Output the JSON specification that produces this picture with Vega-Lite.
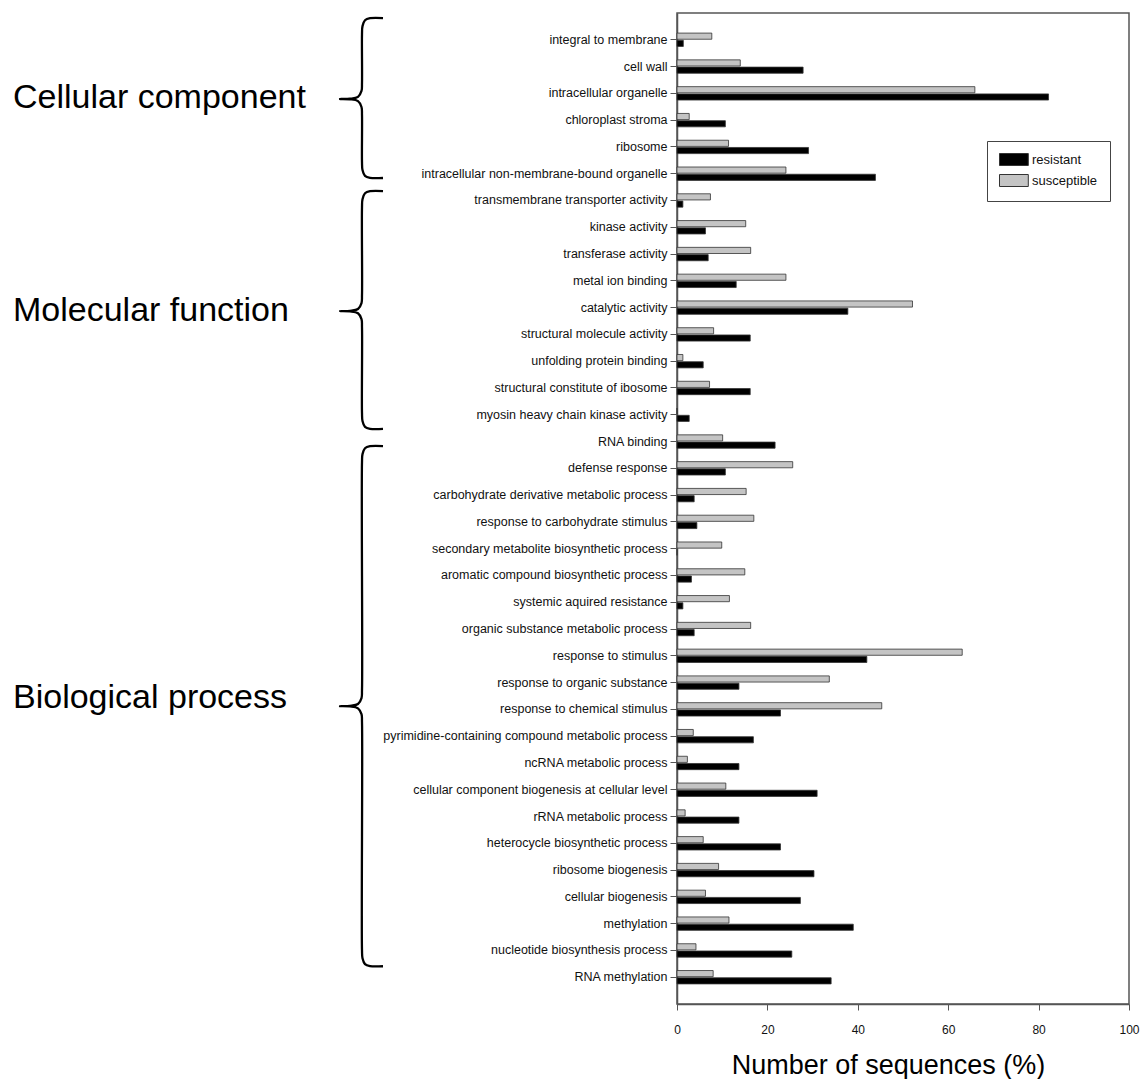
{
  "$schema": "https://vega.github.io/schema/vega-lite/v6.json",
  "padding": {"left": 0, "top": 12, "right": 0, "bottom": 0},
  "background": "white",
  "spacing": 277,
  "bounds": "flush",
  "config": {"font": "Liberation Sans, Arial, sans-serif"},
  "datasets": {
    "bars": [
      {"term": "integral to membrane", "group": "susceptible", "value": 7.7},
      {"term": "integral to membrane", "group": "resistant", "value": 1.4},
      {"term": "cell wall", "group": "susceptible", "value": 14.0},
      {"term": "cell wall", "group": "resistant", "value": 27.9},
      {"term": "intracellular organelle", "group": "susceptible", "value": 65.9},
      {"term": "intracellular organelle", "group": "resistant", "value": 82.2},
      {"term": "chloroplast stroma", "group": "susceptible", "value": 2.7},
      {"term": "chloroplast stroma", "group": "resistant", "value": 10.7},
      {"term": "ribosome", "group": "susceptible", "value": 11.4},
      {"term": "ribosome", "group": "resistant", "value": 29.1},
      {"term": "intracellular non-membrane-bound organelle", "group": "susceptible", "value": 24.1},
      {"term": "intracellular non-membrane-bound organelle", "group": "resistant", "value": 43.9},
      {"term": "transmembrane transporter activity", "group": "susceptible", "value": 7.4},
      {"term": "transmembrane transporter activity", "group": "resistant", "value": 1.3},
      {"term": "kinase activity", "group": "susceptible", "value": 15.2},
      {"term": "kinase activity", "group": "resistant", "value": 6.3},
      {"term": "transferase activity", "group": "susceptible", "value": 16.3},
      {"term": "transferase activity", "group": "resistant", "value": 6.9},
      {"term": "metal ion binding", "group": "susceptible", "value": 24.1},
      {"term": "metal ion binding", "group": "resistant", "value": 13.1},
      {"term": "catalytic activity", "group": "susceptible", "value": 52.1},
      {"term": "catalytic activity", "group": "resistant", "value": 37.8},
      {"term": "structural molecule activity", "group": "susceptible", "value": 8.1},
      {"term": "structural molecule activity", "group": "resistant", "value": 16.2},
      {"term": "unfolding protein binding", "group": "susceptible", "value": 1.3},
      {"term": "unfolding protein binding", "group": "resistant", "value": 5.8},
      {"term": "structural constitute of ibosome", "group": "susceptible", "value": 7.2},
      {"term": "structural constitute of ibosome", "group": "resistant", "value": 16.2},
      {"term": "myosin heavy chain kinase activity", "group": "susceptible", "value": 0},
      {"term": "myosin heavy chain kinase activity", "group": "resistant", "value": 2.7},
      {"term": "RNA binding", "group": "susceptible", "value": 10.1},
      {"term": "RNA binding", "group": "resistant", "value": 21.7},
      {"term": "defense response", "group": "susceptible", "value": 25.6},
      {"term": "defense response", "group": "resistant", "value": 10.7},
      {"term": "carbohydrate derivative metabolic process", "group": "susceptible", "value": 15.3},
      {"term": "carbohydrate derivative metabolic process", "group": "resistant", "value": 3.8},
      {"term": "response to carbohydrate stimulus", "group": "susceptible", "value": 17.0},
      {"term": "response to carbohydrate stimulus", "group": "resistant", "value": 4.4},
      {"term": "secondary metabolite biosynthetic process", "group": "susceptible", "value": 9.9},
      {"term": "secondary metabolite biosynthetic process", "group": "resistant", "value": 0},
      {"term": "aromatic compound biosynthetic process", "group": "susceptible", "value": 15.0},
      {"term": "aromatic compound biosynthetic process", "group": "resistant", "value": 3.2},
      {"term": "systemic aquired resistance", "group": "susceptible", "value": 11.6},
      {"term": "systemic aquired resistance", "group": "resistant", "value": 1.3},
      {"term": "organic substance metabolic process", "group": "susceptible", "value": 16.3},
      {"term": "organic substance metabolic process", "group": "resistant", "value": 3.8},
      {"term": "response to stimulus", "group": "susceptible", "value": 63.1},
      {"term": "response to stimulus", "group": "resistant", "value": 42.0},
      {"term": "response to organic substance", "group": "susceptible", "value": 33.7},
      {"term": "response to organic substance", "group": "resistant", "value": 13.7},
      {"term": "response to chemical stimulus", "group": "susceptible", "value": 45.3},
      {"term": "response to chemical stimulus", "group": "resistant", "value": 22.9},
      {"term": "pyrimidine-containing compound metabolic process", "group": "susceptible", "value": 3.6},
      {"term": "pyrimidine-containing compound metabolic process", "group": "resistant", "value": 16.9},
      {"term": "ncRNA metabolic process", "group": "susceptible", "value": 2.3},
      {"term": "ncRNA metabolic process", "group": "resistant", "value": 13.7},
      {"term": "cellular component biogenesis at cellular level", "group": "susceptible", "value": 10.8},
      {"term": "cellular component biogenesis at cellular level", "group": "resistant", "value": 31.0},
      {"term": "rRNA metabolic process", "group": "susceptible", "value": 1.8},
      {"term": "rRNA metabolic process", "group": "resistant", "value": 13.7},
      {"term": "heterocycle biosynthetic process", "group": "susceptible", "value": 5.8},
      {"term": "heterocycle biosynthetic process", "group": "resistant", "value": 22.9},
      {"term": "ribosome biogenesis", "group": "susceptible", "value": 9.2},
      {"term": "ribosome biogenesis", "group": "resistant", "value": 30.3},
      {"term": "cellular biogenesis", "group": "susceptible", "value": 6.3},
      {"term": "cellular biogenesis", "group": "resistant", "value": 27.3},
      {"term": "methylation", "group": "susceptible", "value": 11.5},
      {"term": "methylation", "group": "resistant", "value": 39.0},
      {"term": "nucleotide biosynthesis process", "group": "susceptible", "value": 4.2},
      {"term": "nucleotide biosynthesis process", "group": "resistant", "value": 25.4},
      {"term": "RNA methylation", "group": "susceptible", "value": 8.0},
      {"term": "RNA methylation", "group": "resistant", "value": 34.1}
    ],
    "braces": [
      {"brace": "A", "i": 1, "x": 383, "y": 0.19},
      {"brace": "A", "i": 2, "x": 370, "y": 0.195},
      {"brace": "A", "i": 3, "x": 365, "y": 0.27},
      {"brace": "A", "i": 4, "x": 362.5, "y": 0.49},
      {"brace": "A", "i": 5, "x": 362, "y": 0.79},
      {"brace": "A", "i": 6, "x": 362, "y": 2.61},
      {"brace": "A", "i": 7, "x": 361.5, "y": 2.91},
      {"brace": "A", "i": 8, "x": 358, "y": 3.13},
      {"brace": "A", "i": 9, "x": 350, "y": 3.2},
      {"brace": "A", "i": 10, "x": 340, "y": 3.21},
      {"brace": "A", "i": 11, "x": 350, "y": 3.22},
      {"brace": "A", "i": 12, "x": 358, "y": 3.29},
      {"brace": "A", "i": 13, "x": 361.5, "y": 3.51},
      {"brace": "A", "i": 14, "x": 362, "y": 3.81},
      {"brace": "A", "i": 15, "x": 362, "y": 5.56},
      {"brace": "A", "i": 16, "x": 362.5, "y": 5.86},
      {"brace": "A", "i": 17, "x": 365, "y": 6.08},
      {"brace": "A", "i": 18, "x": 370, "y": 6.155},
      {"brace": "A", "i": 19, "x": 383, "y": 6.16},
      {"brace": "B", "i": 1, "x": 383, "y": 6.65},
      {"brace": "B", "i": 2, "x": 370, "y": 6.655},
      {"brace": "B", "i": 3, "x": 365, "y": 6.73},
      {"brace": "B", "i": 4, "x": 362.5, "y": 6.95},
      {"brace": "B", "i": 5, "x": 362, "y": 7.25},
      {"brace": "B", "i": 6, "x": 362, "y": 10.53},
      {"brace": "B", "i": 7, "x": 361.5, "y": 10.83},
      {"brace": "B", "i": 8, "x": 358, "y": 11.05},
      {"brace": "B", "i": 9, "x": 350, "y": 11.12},
      {"brace": "B", "i": 10, "x": 340, "y": 11.13},
      {"brace": "B", "i": 11, "x": 350, "y": 11.14},
      {"brace": "B", "i": 12, "x": 358, "y": 11.21},
      {"brace": "B", "i": 13, "x": 361.5, "y": 11.43},
      {"brace": "B", "i": 14, "x": 362, "y": 11.73},
      {"brace": "B", "i": 15, "x": 362, "y": 14.93},
      {"brace": "B", "i": 16, "x": 362.5, "y": 15.23},
      {"brace": "B", "i": 17, "x": 365, "y": 15.45},
      {"brace": "B", "i": 18, "x": 370, "y": 15.525},
      {"brace": "B", "i": 19, "x": 383, "y": 15.53},
      {"brace": "C", "i": 1, "x": 383, "y": 16.17},
      {"brace": "C", "i": 2, "x": 370, "y": 16.175},
      {"brace": "C", "i": 3, "x": 365, "y": 16.25},
      {"brace": "C", "i": 4, "x": 362.5, "y": 16.47},
      {"brace": "C", "i": 5, "x": 362, "y": 16.77},
      {"brace": "C", "i": 6, "x": 362, "y": 25.28},
      {"brace": "C", "i": 7, "x": 361.5, "y": 25.58},
      {"brace": "C", "i": 8, "x": 358, "y": 25.8},
      {"brace": "C", "i": 9, "x": 350, "y": 25.87},
      {"brace": "C", "i": 10, "x": 340, "y": 25.88},
      {"brace": "C", "i": 11, "x": 350, "y": 25.89},
      {"brace": "C", "i": 12, "x": 358, "y": 25.96},
      {"brace": "C", "i": 13, "x": 361.5, "y": 26.18},
      {"brace": "C", "i": 14, "x": 362, "y": 26.48},
      {"brace": "C", "i": 15, "x": 362, "y": 34.99},
      {"brace": "C", "i": 16, "x": 362.5, "y": 35.29},
      {"brace": "C", "i": 17, "x": 365, "y": 35.51},
      {"brace": "C", "i": 18, "x": 370, "y": 35.585},
      {"brace": "C", "i": 19, "x": 383, "y": 35.59}
    ],
    "groups": [
      {"label": "Cellular component", "x": 13, "y": 3.55},
      {"label": "Molecular function", "x": 13, "y": 11.5},
      {"label": "Biological process", "x": 13, "y": 25.95}
    ]
  },
  "hconcat": [
    {
      "width": 400,
      "height": 991,
      "view": {"stroke": null},
      "layer": [
        {
          "data": {"name": "braces"},
          "mark": {"type": "line", "interpolate": "catmull-rom", "color": "black", "strokeWidth": 2.3},
          "encoding": {
            "x": {"field": "x", "type": "quantitative", "scale": {"domain": [0, 400], "nice": false, "zero": false}, "axis": null},
            "y": {"field": "y", "type": "quantitative", "scale": {"domain": [0, 37], "reverse": true, "nice": false, "zero": false}, "axis": null},
            "detail": {"field": "brace", "type": "nominal"},
            "order": {"field": "i", "type": "quantitative"}
          }
        },
        {
          "data": {"name": "groups"},
          "mark": {"type": "text", "align": "left", "baseline": "alphabetic", "fontSize": 34, "color": "black"},
          "encoding": {
            "x": {"field": "x", "type": "quantitative"},
            "y": {"field": "y", "type": "quantitative"},
            "text": {"field": "label", "type": "nominal"}
          }
        }
      ]
    },
    {
      "width": 452,
      "height": 991,
      "data": {"name": "bars"},
      "view": {"stroke": "#555", "strokeWidth": 1.5},
      "mark": {"type": "bar", "stroke": "#333", "strokeWidth": 0.8},
      "encoding": {
        "y": {
          "field": "term", "type": "nominal", "sort": null,
          "scale": {"paddingInner": 0.5, "paddingOuter": 0.75},
          "axis": {"title": null, "labelFontSize": 12.5, "labelColor": "#111", "tickSize": 7, "tickColor": "#555", "domainColor": "#555", "domainWidth": 1.5, "labelPadding": 3, "labelLimit": 400}
        },
        "yOffset": {"field": "group", "type": "nominal", "sort": ["susceptible", "resistant"], "scale": {"paddingInner": 0.15}},
        "x": {
          "field": "value", "type": "quantitative",
          "scale": {"domain": [0, 100], "nice": false},
          "axis": {"values": [0, 20, 40, 60, 80, 100], "grid": false, "labelFlush": false, "title": "Number of sequences (%)", "titleFontSize": 27, "titleFontWeight": "normal", "titleColor": "black", "titlePadding": 17, "titleX": 211, "labelFontSize": 12, "labelColor": "#111", "labelPadding": 14, "tickSize": 6, "tickColor": "#555", "domainColor": "#555", "domainWidth": 1.5}
        },
        "color": {
          "field": "group", "type": "nominal",
          "scale": {"domain": ["resistant", "susceptible"], "range": ["#000000", "#c4c4c4"]},
          "legend": {"title": null, "orient": "none", "legendX": 987, "legendY": 128, "strokeColor": "#444", "fillColor": "white", "padding": 12, "symbolType": "M-1,-1H3.8V1H-1Z", "symbolSize": 144, "symbolStrokeColor": "#333", "symbolStrokeWidth": 1, "symbolOpacity": 1, "labelFontSize": 13, "labelColor": "#111", "rowPadding": 4, "labelOffset": 20}
        }
      }
    }
  ]
}
